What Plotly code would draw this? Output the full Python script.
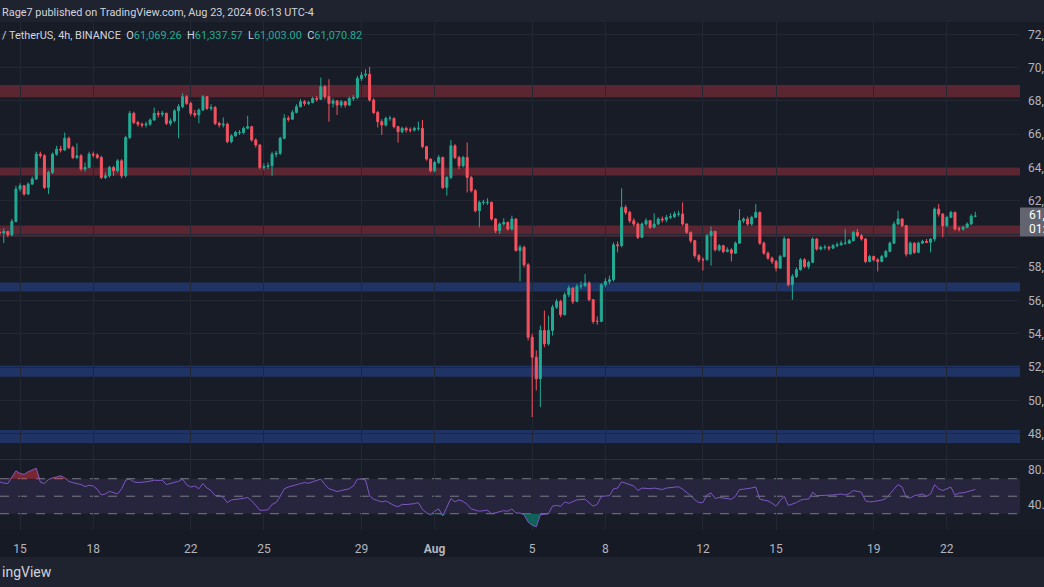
import numpy as np
import pandas as pd
import plotly.graph_objects as go

W, H = 1044, 587

# ---------------- data (prices in thousands of USDT) ----------------
start_time = "2024-07-14 04:00"
first_open = 60.10
closes = [
    60.06, 60.15, 59.95, 60.75, 62.70, 62.90, 62.40, 63.00, 63.30, 64.80,
    64.70, 62.80, 63.70, 64.80, 65.10, 65.05, 65.75, 65.20, 64.60, 64.70,
    63.90, 64.00, 64.80, 64.75, 64.60, 63.40, 63.50, 64.00, 63.80, 64.40,
    63.50, 65.80, 67.25, 66.70, 66.60, 66.55, 66.60, 66.85, 67.25, 67.20,
    67.25, 66.65, 66.80, 67.40, 67.65, 68.25, 67.85, 67.25, 67.15, 67.45,
    68.25, 67.55, 67.60, 66.65, 66.55, 66.60, 65.55, 65.90, 66.10, 66.10,
    66.35, 66.45, 65.65, 65.35, 64.00, 64.05, 64.10, 64.80, 64.85, 65.75,
    66.95, 66.90, 67.30, 67.65, 67.95, 67.85, 67.90, 68.15, 68.10, 68.85,
    68.25, 67.85, 68.00, 67.75, 67.95, 67.75, 68.15, 68.20, 69.35, 69.55,
    69.60, 68.05, 67.30, 66.75, 66.55, 66.95, 66.95, 66.45, 66.15, 66.35,
    66.25, 66.25, 66.35, 66.35, 65.25, 64.50, 63.80, 64.30, 64.60, 62.80,
    63.40, 65.30, 64.60, 64.10, 64.60, 63.40, 62.60, 61.40, 61.90, 61.90,
    61.90, 60.90, 60.20, 60.60, 60.70, 60.30, 60.90, 59.00, 59.20, 58.15,
    53.80, 52.60, 51.30, 54.20, 53.40, 54.20, 55.60, 55.95, 55.15, 56.35,
    56.75, 55.95, 56.85, 56.90, 57.05, 56.05, 54.75, 54.75, 56.95, 57.15,
    57.25, 59.35, 59.30, 61.60, 61.30, 60.80, 60.60, 59.80, 60.60, 60.80,
    60.40, 60.60, 60.90, 60.85, 61.00, 61.05, 61.20, 61.20, 60.60, 60.10,
    59.60, 58.70, 58.45, 58.45, 59.90, 60.15, 59.05, 59.30, 58.95, 59.05,
    58.85, 59.45, 60.80, 60.90, 60.60, 61.00, 61.30, 59.45, 58.85, 58.55,
    58.35, 57.95, 58.65, 59.70, 56.95, 57.45, 57.85, 58.45, 58.05, 58.30,
    59.70, 59.10, 59.20, 59.20, 59.15, 59.30, 59.35, 59.45, 59.45, 59.60,
    60.10, 59.90, 59.70, 58.35, 58.65, 58.45, 58.35, 58.65, 58.95, 59.45,
    60.60, 60.90, 60.50, 58.80, 59.45, 58.90, 59.45, 59.55, 59.50, 59.70,
    61.50, 61.20, 60.50, 61.00, 61.30, 60.30, 60.30, 60.40, 60.60, 61.06926, 61.07082,
]
highs = [
    60.30, 60.35, 60.20, 60.90, 62.90, 63.05, 62.95, 63.10, 63.45, 64.95,
    64.95, 64.80, 63.80, 64.90, 65.30, 65.30, 66.10, 65.85, 65.30, 65.45,
    64.80, 64.30, 64.95, 64.95, 64.85, 64.70, 63.70, 64.10, 64.10, 64.50,
    64.50, 65.90, 67.40, 67.35, 66.80, 66.70, 66.75, 66.95, 67.60, 67.40,
    67.40, 67.30, 66.95, 67.50, 67.80, 68.45, 68.35, 67.95, 67.45, 67.55,
    68.35, 68.30, 67.80, 67.70, 66.75, 67.00, 66.70, 66.00, 66.20, 66.25,
    66.45, 67.10, 66.50, 65.75, 65.40, 64.25, 64.30, 64.95, 65.00, 65.85,
    67.20, 67.10, 67.45, 67.80, 68.10, 68.05, 68.00, 68.25, 68.30, 69.40,
    68.95, 69.30, 68.15, 68.05, 68.05, 68.00, 68.25, 68.35, 69.50, 69.75,
    69.90, 70.05, 68.15, 67.40, 66.90, 67.05, 67.10, 67.00, 66.50, 66.45,
    66.45, 66.40, 66.45, 66.75, 66.85, 65.30, 64.55, 64.40, 64.75, 64.65,
    63.50, 65.65, 65.40, 64.70, 64.70, 65.50, 63.50, 62.70, 62.00, 62.05,
    62.15, 61.95, 60.95, 60.70, 60.95, 60.75, 61.10, 60.95, 59.35, 59.30,
    58.25, 54.00, 53.00, 54.50, 55.40, 55.10, 55.75, 56.10, 56.05, 56.50,
    56.90, 56.80, 57.00, 57.15, 57.60, 57.15, 56.10, 55.05, 57.05, 57.35,
    57.50, 59.50, 59.55, 62.75, 61.75, 61.40, 60.95, 60.70, 60.70, 60.95,
    60.85, 61.25, 61.00, 61.05, 61.15, 61.25, 61.35, 61.40, 61.90, 60.65,
    60.15, 59.65, 58.80, 58.60, 60.00, 60.45, 60.20, 59.40, 59.35, 59.20,
    59.15, 59.55, 61.50, 61.00, 61.05, 61.10, 61.80, 61.35, 59.55, 58.95,
    58.65, 58.45, 58.75, 59.85, 59.75, 57.60, 58.00, 58.55, 58.55, 58.40,
    59.80, 59.75, 59.30, 59.35, 59.30, 59.40, 59.50, 59.60, 60.30, 59.70,
    60.20, 60.30, 60.00, 59.75, 58.75, 58.70, 58.55, 58.75, 59.05, 59.55,
    60.75, 61.40, 60.95, 60.55, 59.55, 59.50, 59.55, 59.65, 59.70, 59.75,
    61.60, 61.80, 61.25, 61.10, 61.40, 61.35, 60.45, 60.50, 60.70, 61.20, 61.33757,
]
lows = [
    59.90, 59.45, 59.80, 59.85, 60.70, 62.55, 62.30, 62.35, 62.95, 63.25,
    64.55, 62.70, 62.40, 63.60, 64.70, 64.90, 65.00, 65.10, 64.50, 64.50,
    63.80, 63.75, 63.95, 64.60, 64.50, 63.30, 63.30, 63.40, 63.50, 63.70,
    63.35, 63.40, 65.70, 66.60, 66.45, 66.40, 66.40, 66.50, 66.80, 67.00,
    67.05, 66.55, 66.50, 66.70, 65.75, 67.55, 67.75, 67.10, 67.00, 66.65,
    67.40, 67.45, 67.40, 66.55, 66.40, 66.40, 65.45, 65.45, 65.85, 65.95,
    66.00, 66.30, 65.55, 65.20, 63.90, 63.85, 63.90, 63.50, 64.60, 64.75,
    65.70, 66.75, 66.85, 67.25, 67.60, 67.70, 67.75, 67.85, 67.95, 68.05,
    68.10, 66.75, 67.60, 67.15, 67.60, 67.60, 67.70, 68.00, 68.10, 69.20,
    69.40, 67.95, 67.20, 66.40, 65.95, 66.45, 66.80, 66.35, 65.50, 66.05,
    66.10, 66.10, 66.15, 66.20, 65.15, 64.40, 63.70, 63.70, 64.20, 62.70,
    62.30, 63.30, 64.50, 63.90, 64.00, 62.50, 62.50, 61.30, 60.40, 61.75,
    61.75, 60.80, 60.05, 60.00, 60.50, 60.20, 60.20, 58.95, 57.15, 58.00,
    53.60, 49.00, 50.60, 49.60, 53.20, 53.30, 53.90, 55.50, 55.00, 55.10,
    56.20, 55.80, 55.90, 56.70, 56.80, 55.95, 54.60, 54.55, 54.70, 56.80,
    57.00, 57.15, 58.90, 59.20, 61.15, 60.65, 60.45, 59.70, 59.75, 60.50,
    60.30, 60.35, 60.55, 60.70, 60.70, 60.90, 60.95, 61.05, 60.50, 60.00,
    59.45, 58.55, 58.30, 57.80, 58.40, 58.10, 58.95, 58.95, 58.85, 58.90,
    58.35, 58.80, 59.40, 60.65, 60.50, 60.50, 60.95, 59.35, 58.75, 58.45,
    58.20, 57.75, 57.90, 58.60, 56.85, 56.05, 57.35, 57.80, 57.95, 57.90,
    58.25, 59.00, 59.00, 59.05, 59.00, 59.10, 59.20, 59.30, 59.35, 59.40,
    59.55, 59.80, 59.60, 58.25, 58.30, 58.35, 57.75, 58.30, 58.55, 58.90,
    59.40, 60.55, 60.40, 58.65, 58.75, 58.80, 58.85, 59.40, 59.45, 58.90,
    59.55, 61.05, 59.80, 60.40, 60.95, 60.20, 60.15, 60.20, 60.35, 60.55, 61.003,
]
rsi = [
    66.4, 65.0, 64.5, 72.0, 79.0, 76.0, 75.0, 78.0, 80.0, 82.0,
    66.0, 64.5, 69.0, 71.0, 72.0, 73.5, 71.0, 67.0, 65.5, 64.5,
    63.3, 61.0, 62.5, 61.7, 58.0, 51.5, 52.6, 55.5, 54.0, 52.6,
    58.5, 68.4, 69.6, 66.4, 65.6, 65.6, 66.4, 67.2, 68.4, 68.0,
    68.4, 63.3, 64.5, 65.5, 67.0, 69.6, 63.0, 60.5, 61.7, 58.5,
    64.5, 59.3, 56.5, 50.6, 51.0, 48.6, 42.7, 45.8, 46.2, 46.6,
    47.5, 48.6, 44.7, 39.5, 34.0, 34.0, 34.5, 40.7, 42.7, 49.8,
    58.5, 60.5, 62.0, 63.5, 64.5, 65.6, 64.8, 66.5, 68.4, 69.6,
    63.3, 58.5, 57.0, 55.3, 56.5, 57.7, 58.5, 61.7, 69.6, 69.6,
    68.5, 50.6, 46.6, 45.0, 43.5, 44.7, 41.9, 39.5, 37.9, 40.7,
    40.5, 40.7, 41.5, 42.7, 34.8, 31.0, 28.8, 32.8, 35.5, 27.6,
    36.7, 47.4, 43.5, 45.8, 44.0, 40.7, 35.5, 34.0, 32.8, 33.5,
    34.0, 30.0, 31.0, 32.8, 33.5, 32.8, 35.5, 30.8, 30.8, 28.8,
    20.5, 16.9, 15.0, 28.8, 29.5, 30.0, 38.7, 39.5, 38.5, 43.5,
    41.9, 43.5, 45.8, 46.2, 46.6, 42.5, 38.7, 40.7, 49.8, 50.2,
    50.6, 58.5, 59.3, 66.4, 65.0, 63.3, 61.7, 56.5, 59.3, 59.0,
    58.5, 59.3, 58.5, 57.7, 59.3, 59.8, 60.1, 60.9, 58.0, 54.6,
    50.5, 46.0, 42.7, 42.7, 51.4, 53.8, 47.4, 48.6, 48.0, 47.4,
    46.6, 50.0, 57.7, 58.0, 58.5, 59.5, 60.5, 46.6, 45.5, 44.7,
    42.0, 38.7, 45.0, 49.8, 39.5, 41.0, 42.7, 45.5, 46.6, 46.6,
    54.6, 50.6, 50.6, 50.6, 51.0, 51.4, 52.0, 52.6, 51.4, 53.0,
    56.5, 55.5, 54.6, 44.7, 43.5, 44.0, 44.7, 45.5, 47.4, 52.6,
    58.5, 63.3, 60.5, 48.6, 48.0, 50.6, 51.5, 52.6, 49.8, 52.6,
    63.3, 58.5, 56.5, 58.5, 60.5, 51.4, 53.8, 53.8, 55.0, 56.5, 57.7,
]

# horizontal zones (thousands): (low, high)
red_zones = [(68.22, 68.95), (63.52, 64.00), (59.85, 60.51)]
blue_zones = [(56.54, 57.08), (51.42, 52.08), (47.44, 48.22)]

# price axis ticks (only the visible part of each label fits in the window)
price_ticks = [48, 50, 52, 54, 56, 58, 60, 62, 64, 66, 68, 70, 72]
price_tick_text = ["48,", "50,", "52,", "54,", "56,", "58,", "", "62,", "64,", "66,", "68,", "70,", "72,"]
rsi_ticks = [40, 80]
rsi_tick_text = ["40.", "80."]

date_ticks = ["2024-07-15", "2024-07-18", "2024-07-22", "2024-07-25", "2024-07-29",
              "2024-08-01", "2024-08-05", "2024-08-08", "2024-08-12", "2024-08-15",
              "2024-08-19", "2024-08-22"]
date_labels = ["15", "18", "22", "25", "29", "<b>Aug</b>", "5", "8", "12", "15", "19", "22"]

last_price_text = "61,"
countdown_text = "01:"

# ---------------- build ----------------
times = pd.date_range(start_time, periods=len(closes), freq="4h")
c = np.array(closes) * 1000
h = np.array(highs) * 1000
l = np.array(lows) * 1000
o = np.concatenate([[first_open * 1000], c[:-1]])
o[-1] = 61069.26
r = np.array(rsi)


def py(px):
    return 1 - px / H


BG = "#181c27"
BAND = "#1f2330"
GRID = "#232734"
TXT = "#b2b5be"
GREEN = "#22ab94"
RED = "#f7525f"
FONT = "Roboto, sans-serif"
XR = 1020 / W

fig = go.Figure()

fig.add_trace(go.Candlestick(
    x=times, open=o, high=h, low=l, close=c,
    increasing=dict(line=dict(color=GREEN, width=1), fillcolor=GREEN),
    decreasing=dict(line=dict(color=RED, width=1), fillcolor=RED),
    whiskerwidth=0, xaxis="x", yaxis="y", hoverinfo="skip",
))

# RSI fills
fig.add_trace(go.Scatter(x=times, y=np.full(len(r), 70.0), mode="lines",
                         line=dict(width=0), xaxis="x2", yaxis="y2", hoverinfo="skip"))
fig.add_trace(go.Scatter(x=times, y=np.maximum(r, 70.0), mode="lines", line=dict(width=0),
                         fill="tonexty", fillcolor="rgba(242,54,69,0.45)",
                         xaxis="x2", yaxis="y2", hoverinfo="skip"))
fig.add_trace(go.Scatter(x=times, y=np.full(len(r), 30.0), mode="lines",
                         line=dict(width=0), xaxis="x2", yaxis="y2", hoverinfo="skip"))
fig.add_trace(go.Scatter(x=times, y=np.minimum(r, 30.0), mode="lines", line=dict(width=0),
                         fill="tonexty", fillcolor="rgba(8,153,129,0.55)",
                         xaxis="x2", yaxis="y2", hoverinfo="skip"))
fig.add_trace(go.Scatter(x=times, y=r, mode="lines", line=dict(color="#7e57c2", width=1),
                         xaxis="x2", yaxis="y2", hoverinfo="skip"))

shapes = []
# header and footer bands
shapes.append(dict(type="rect", xref="paper", yref="paper", x0=0, x1=1, y0=py(22), y1=1,
                   fillcolor=BAND, line=dict(width=0), layer="below"))
shapes.append(dict(type="rect", xref="paper", yref="paper", x0=0, x1=1, y0=0, y1=py(557),
                   fillcolor=BAND, line=dict(width=0), layer="below"))
shapes.append(dict(type="rect", xref="paper", yref="paper", x0=0, x1=1, y0=py(557), y1=py(530),
                   fillcolor="#161a25", line=dict(width=0), layer="below"))
shapes.append(dict(type="line", xref="paper", yref="paper", x0=0, x1=1, y0=py(459.5), y1=py(459.5),
                   line=dict(color="#2a2e39", width=1), layer="below"))
for lo, hi in red_zones:
    shapes.append(dict(type="rect", xref="x domain", yref="y", x0=0, x1=1,
                       y0=lo * 1000, y1=hi * 1000, fillcolor="#5c2532",
                       line=dict(width=0), layer="below"))
for lo, hi in blue_zones:
    shapes.append(dict(type="rect", xref="x domain", yref="y", x0=0, x1=1,
                       y0=lo * 1000, y1=hi * 1000, fillcolor="#1f3464",
                       line=dict(width=0), layer="below"))
# RSI band and levels
shapes.append(dict(type="rect", xref="x2 domain", yref="y2", x0=0, x1=1, y0=30, y1=70,
                   fillcolor="rgba(126,87,194,0.15)", line=dict(width=0), layer="below"))
for lvl in (70, 50, 30):
    shapes.append(dict(type="line", xref="x2 domain", yref="y2", x0=0, x1=1, y0=lvl, y1=lvl,
                       line=dict(color="#787b86", width=1, dash="dash"), layer="below"))
# last price label box
shapes.append(dict(type="rect", xref="paper", yref="paper", x0=XR, x1=1, y0=py(236.5), y1=py(207.5),
                   fillcolor="#62656f", line=dict(width=0), layer="above"))

annotations = [
    dict(xref="paper", yref="paper", x=0, y=py(12), xanchor="left", yanchor="middle",
         text="Rage7 published on TradingView.com, Aug 23, 2024 06:13 UTC-4",
         showarrow=False, font=dict(color="#d1d4dc", size=10.9, family=FONT)),
    dict(xref="paper", yref="paper", x=0, y=py(35), xanchor="left", yanchor="middle",
         text=("/ TetherUS, 4h, BINANCE  O<span style='color:%s'>61,069.26</span>"
               "  H<span style='color:%s'>61,337.57</span>  L<span style='color:%s'>61,003.00</span>"
               "  C<span style='color:%s'>61,070.82</span>") % (GREEN, GREEN, GREEN, GREEN),
         showarrow=False, font=dict(color="#d1d4dc", size=10.9, family=FONT)),
    dict(xref="paper", yref="paper", x=0, y=py(572), xanchor="left", yanchor="middle",
         text="ingView", showarrow=False, font=dict(color="#d1d4dc", size=14, family=FONT)),
    dict(xref="paper", yref="paper", x=1027 / W, y=py(215), xanchor="left", yanchor="middle",
         text=last_price_text, showarrow=False, font=dict(color="#ffffff", size=12, family=FONT)),
    dict(xref="paper", yref="paper", x=1027 / W, y=py(229), xanchor="left", yanchor="middle",
         text=countdown_text, showarrow=False, font=dict(color="#ffffff", size=12, family=FONT)),
]

x_range = ["2024-07-14 04:18", "2024-08-25 00:00"]

fig.update_layout(
    width=W, height=H, margin=dict(l=0, r=0, t=0, b=0),
    paper_bgcolor=BG, plot_bgcolor=BG, showlegend=False, hovermode=False,
    font=dict(family=FONT, color=TXT, size=12),
    shapes=shapes, annotations=annotations,
    xaxis=dict(domain=[0, XR], range=x_range, anchor="y", type="date",
               tickvals=date_ticks, showticklabels=False, showgrid=True, gridcolor=GRID,
               zeroline=False, rangeslider=dict(visible=False), fixedrange=True, showline=False),
    yaxis=dict(domain=[py(459), py(22)], range=[46480, 72740], anchor="x", side="right",
               tickvals=[v * 1000 for v in price_ticks], ticktext=price_tick_text,
               showgrid=True, gridcolor=GRID, zeroline=False, ticks="", ticklabelstandoff=7,
               tickfont=dict(color=TXT, size=12, family=FONT), fixedrange=True),
    xaxis2=dict(domain=[0, XR], range=x_range, anchor="y2", type="date", matches="x",
                tickvals=date_ticks, ticktext=date_labels, showgrid=True, gridcolor=GRID,
                zeroline=False, ticks="", ticklabelstandoff=10,
                tickfont=dict(color=TXT, size=12, family=FONT), fixedrange=True),
    yaxis2=dict(domain=[py(530), py(460)], range=[11.4, 91.4], anchor="x2", side="right",
                tickvals=rsi_ticks, ticktext=rsi_tick_text, showgrid=False,
                zeroline=False, ticks="", ticklabelstandoff=7,
                tickfont=dict(color=TXT, size=12, family=FONT), fixedrange=True),
)

fig.write_html("out.html")
